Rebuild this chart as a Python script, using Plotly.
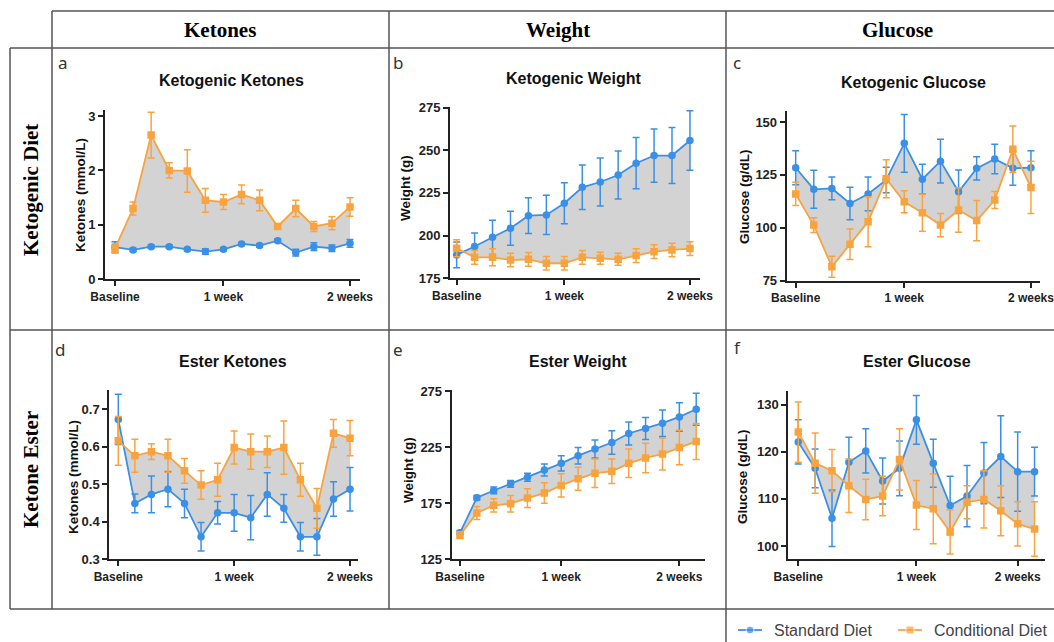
import plotly.graph_objects as go

W, H = 1054, 642

# ---------------- data ----------------
tick_text = ["Baseline", "1 week", "2 weeks"]
series_names = ["Standard Diet", "Conditional Diet"]
col_headers = ["Ketones", "Weight", "Glucose"]
row_headers = ["Ketogenic Diet", "Ketone Ester"]
panel_titles = ["Ketogenic Ketones", "Ketogenic Weight", "Ketogenic Glucose",
                "Ester Ketones", "Ester Weight", "Ester Glucose"]
panel_letters = ["a", "b", "c", "d", "e", "f"]
y_titles = ["Ketones (mmol/L)", "Weight (g)", "Glucose (g/dL)",
            "Ketones (mmol/L)", "Weight (g)", "Glucose (g/dL)"]

keto_ketones_std = [0.59, 0.54, 0.60, 0.60, 0.55, 0.51, 0.55, 0.65, 0.62, 0.71, 0.49, 0.60, 0.57, 0.66]
keto_ketones_std_err = [0.10, 0.03, 0.03, 0.03, 0.03, 0.05, 0.03, 0.03, 0.03, 0.03, 0.06, 0.07, 0.06, 0.07]
keto_ketones_cond = [0.57, 1.30, 2.65, 2.00, 1.99, 1.45, 1.42, 1.56, 1.45, 0.97, 1.30, 0.97, 1.03, 1.33]
keto_ketones_cond_err = [0.08, 0.12, 0.42, 0.14, 0.39, 0.22, 0.14, 0.17, 0.19, 0.05, 0.15, 0.09, 0.12, 0.17]

keto_weight_std = [188.7, 193.6, 199.0, 204.3, 211.7, 212.1, 219.0, 228.3, 231.4, 235.5, 242.4, 246.9, 246.9, 255.7]
keto_weight_std_err = [7.5, 8, 10, 10, 10.5, 11.5, 12, 13, 14, 14, 15, 15.6, 16.4, 17.4]
keto_weight_cond = [192.6, 187.3, 187.3, 185.7, 186.1, 183.8, 183.8, 187.3, 186.7, 186.1, 188.3, 190.6, 191.6, 192.4]
keto_weight_cond_err = [5, 4, 5, 4, 4, 4, 4, 4, 3.5, 3.5, 4, 4, 4, 4]

keto_glucose_std = [128.4, 118.2, 118.6, 111.5, 116.0, 122.6, 139.9, 123.0, 131.5, 117.0, 128.1, 132.5, 128.1, 128.4]
keto_glucose_std_err = [8, 9, 5.4, 7.7, 8, 6, 13.7, 7, 10.3, 10.3, 5.5, 7, 8, 8]
keto_glucose_cond = [116.0, 101.3, 81.6, 92.2, 102.9, 123.2, 112.3, 107.1, 101.3, 108.4, 103.4, 113.1, 137.1, 119.1]
keto_glucose_cond_err = [5.5, 3.5, 5, 7.2, 11.8, 9, 5.2, 8.7, 5.5, 10.5, 9.5, 4, 11, 12.4]

ester_ketones_std = [0.673, 0.449, 0.473, 0.487, 0.449, 0.360, 0.424, 0.424, 0.411, 0.473, 0.436, 0.360, 0.360, 0.461, 0.487]
ester_ketones_std_err = [0.067, 0.025, 0.049, 0.047, 0.038, 0.038, 0.03, 0.049, 0.059, 0.058, 0.037, 0.038, 0.049, 0.046, 0.058]
ester_ketones_cond = [0.616, 0.576, 0.587, 0.576, 0.536, 0.498, 0.512, 0.598, 0.587, 0.587, 0.598, 0.512, 0.436, 0.636, 0.623]
ester_ketones_cond_err = [0.065, 0.044, 0.021, 0.044, 0.033, 0.038, 0.044, 0.044, 0.047, 0.042, 0.071, 0.044, 0.053, 0.037, 0.047]

ester_weight_std = [148.6, 179.9, 186.4, 192.3, 198.2, 204.7, 210.6, 217.4, 223.3, 229.2, 237.2, 241.6, 246.4, 252.0, 258.8]
ester_weight_std_err = [2, 2, 3, 3, 3.6, 5.3, 6.8, 7.4, 8, 10.4, 10.3, 9.8, 11.8, 12.7, 14.2]
ester_weight_cond = [146.6, 166.3, 173.1, 174.6, 179.6, 184.1, 190.9, 196.8, 201.8, 203.5, 210.6, 215.4, 218.9, 224.8, 230.1]
ester_weight_cond_err = [3, 5.9, 5.9, 7.4, 8.3, 9.1, 10.3, 10.3, 12.7, 11, 12.7, 13.2, 14.2, 15.4, 16]

ester_glucose_std = [122.1, 116.5, 105.9, 117.8, 120.2, 113.8, 116.5, 126.8, 117.6, 108.6, 110.6, 115.5, 119.0, 115.8, 115.8]
ester_glucose_std_err = [4.7, 4.1, 6, 5.3, 4.7, 4.9, 5.8, 5.2, 5.1, 6.2, 6.5, 6.5, 8.7, 8.4, 5.2]
ester_glucose_cond = [124.2, 117.6, 116.0, 112.8, 109.9, 110.6, 118.4, 108.7, 107.9, 103.0, 109.3, 109.9, 107.5, 104.7, 103.6]
ester_glucose_cond_err = [6.4, 6.4, 4.5, 5.7, 4.3, 4.2, 6.5, 5.2, 7.4, 4.7, 3.5, 6.1, 5.3, 4.7, 5.8]

# x positions of the "Baseline / 1 week / 2 weeks" ticks (measurement index)
tick_idx = [[0, 6, 13], [0, 6, 13], [0, 6, 13], [0, 7, 14], [0, 6, 13], [0, 7, 13]]
y_ticks = [[0, 1, 2, 3], [175, 200, 225, 250, 275], [75, 100, 125, 150],
           [0.3, 0.4, 0.5, 0.6, 0.7], [125, 175, 225, 275], [100, 110, 120, 130]]

panels_data = [
    (keto_ketones_std, keto_ketones_std_err, keto_ketones_cond, keto_ketones_cond_err),
    (keto_weight_std, keto_weight_std_err, keto_weight_cond, keto_weight_cond_err),
    (keto_glucose_std, keto_glucose_std_err, keto_glucose_cond, keto_glucose_cond_err),
    (ester_ketones_std, ester_ketones_std_err, ester_ketones_cond, ester_ketones_cond_err),
    (ester_weight_std, ester_weight_std_err, ester_weight_cond, ester_weight_cond_err),
    (ester_glucose_std, ester_glucose_std_err, ester_glucose_cond, ester_glucose_cond_err),
]

# ---------------- layout geometry (pixels) ----------------
# (x_left, x_right, y_top, y_bottom) of each plot area
boxes = [(105, 360, 110, 279.3), (450, 700, 106.7, 278.3), (786.7, 1040, 111, 280.7),
         (109.3, 358.3, 390, 559.3), (451.7, 705, 390, 559.3), (788.3, 1045, 390.7, 559.3)]
x_ranges = [[-0.553, 13.553], [-0.37, 13.56], [-0.497, 13.5],
            [-0.544, 14.5], [-0.49, 14.52], [-0.59, 14.62]]
y_ranges = [[0, 3.11], [175, 275.5], [75, 155.2], [0.3, 0.7515], [125, 276], [97.17, 133.0]]
title_pos = [(231, 81), (573, 79), (913, 83), (233, 362), (578, 362), (917, 362)]
letter_pos = [(63, 62), (398, 62), (737, 63), (60, 350), (398, 349), (737, 347)]
ytitle_pos = [(80, 195), (405, 188), (744, 197), (73, 477), (408, 470), (742, 477)]

BLUE = "#3a90e6"
ORANGE = "#f9a33f"
FILL = "#d3d3d3"
AX = "#222222"
SANS = "Liberation Sans, Arial, sans-serif"
SERIF = "Liberation Serif, Times New Roman, serif"


def px(x):
    return x / W


def py(y):
    return 1 - y / H


fig = go.Figure()
layout_axes = {}
annotations = []

for i, (std, std_err, cond, cond_err) in enumerate(panels_data):
    n = i + 1
    xa = "x" if n == 1 else f"x{n}"
    ya = "y" if n == 1 else f"y{n}"
    xs = list(range(len(std)))

    # gray area between the two curves
    fig.add_trace(go.Scatter(
        x=xs + xs[::-1], y=std + cond[::-1], fill="toself", fillcolor=FILL,
        mode="none", hoverinfo="skip", showlegend=False, xaxis=xa, yaxis=ya))
    fig.add_trace(go.Scatter(
        x=xs, y=std, mode="lines+markers", name=series_names[0],
        line=dict(color=BLUE, width=1.8),
        marker=dict(symbol="circle", size=7.5, color=BLUE),
        error_y=dict(type="data", array=std_err, visible=True, color=BLUE, thickness=1.5, width=3.5),
        showlegend=False, xaxis=xa, yaxis=ya))
    fig.add_trace(go.Scatter(
        x=xs, y=cond, mode="lines+markers", name=series_names[1],
        line=dict(color=ORANGE, width=1.8),
        marker=dict(symbol="square", size=7.5, color=ORANGE),
        error_y=dict(type="data", array=cond_err, visible=True, color=ORANGE, thickness=1.5, width=3.5),
        showlegend=False, xaxis=xa, yaxis=ya))

    x0, x1, y0, y1 = boxes[i]
    xkey = "xaxis" if n == 1 else f"xaxis{n}"
    ykey = "yaxis" if n == 1 else f"yaxis{n}"
    layout_axes[xkey] = dict(
        domain=[px(x0), px(x1)], range=x_ranges[i], anchor=ya,
        showgrid=False, zeroline=False, showline=True, linecolor=AX, linewidth=2,
        ticks="outside", ticklen=5, tickwidth=2, tickcolor=AX,
        tickvals=tick_idx[i], ticktext=tick_text, ticklabeloverflow="allow",
        tickfont=dict(family=SANS, size=12, color=AX, weight="bold"))
    layout_axes[ykey] = dict(
        domain=[py(y1), py(y0)], range=y_ranges[i], anchor=xa,
        showgrid=False, zeroline=False, showline=True, linecolor=AX, linewidth=2,
        ticks="outside", ticklen=5, tickwidth=2, tickcolor=AX,
        tickvals=y_ticks[i], ticklabeloverflow="allow",
        tickfont=dict(family=SANS, size=13, color=AX, weight="bold"))

    tx, ty = title_pos[i]
    annotations.append(dict(text=panel_titles[i], x=px(tx), y=py(ty), xref="paper", yref="paper",
                            showarrow=False, xanchor="center", yanchor="middle",
                            font=dict(family=SANS, size=16, color="#111", weight="bold")))
    lx, ly = letter_pos[i]
    annotations.append(dict(text=panel_letters[i], x=px(lx), y=py(ly), xref="paper", yref="paper",
                            showarrow=False, xanchor="center", yanchor="middle",
                            font=dict(family="Noto Sans, sans-serif", size=17, color="#333")))
    ax_, ay_ = ytitle_pos[i]
    annotations.append(dict(text=y_titles[i], x=px(ax_), y=py(ay_), xref="paper", yref="paper",
                            showarrow=False, xanchor="center", yanchor="middle", textangle=-90,
                            font=dict(family=SANS, size=13.5, color="#111", weight="bold")))

# ---------------- manual legend (key samples in a pixel-unit helper axis) ----------------
legend_keys = [  # (name, color, symbol, sample x-center, text x)
    (series_names[0], BLUE, "circle", 750, 772),
    (series_names[1], ORANGE, "square", 910, 932),
]
LEG_Y = 630
for name, color, symbol, cx, tx in legend_keys:
    fig.add_trace(go.Scatter(
        x=[cx - 12, cx, cx + 12], y=[LEG_Y] * 3, mode="lines+markers",
        line=dict(color=color, width=1.8),
        marker=dict(symbol=symbol, size=[0, 8, 0], color=color),
        hoverinfo="skip", showlegend=False, xaxis="x7", yaxis="y7"))
    annotations.append(dict(text=name, x=tx, y=LEG_Y, xref="x7", yref="y7",
                            showarrow=False, xanchor="left", yanchor="middle",
                            font=dict(family=SANS, size=16, color="#444")))
layout_axes["xaxis7"] = dict(domain=[0, 1], range=[0, W], visible=False, anchor="y7", fixedrange=True)
layout_axes["yaxis7"] = dict(domain=[0, 1], range=[H, 0], visible=False, anchor="x7", fixedrange=True)

# column / row headers
for text, cx in zip(col_headers, [220, 558, 897]):
    annotations.append(dict(text=text, x=px(cx), y=py(30), xref="paper", yref="paper",
                            showarrow=False, xanchor="center", yanchor="middle",
                            font=dict(family=SERIF, size=21, color="#000", weight="bold")))
for text, cy in zip(row_headers, [190, 470]):
    annotations.append(dict(text=text, x=px(31), y=py(cy), xref="paper", yref="paper",
                            showarrow=False, xanchor="center", yanchor="middle", textangle=-90,
                            font=dict(family=SERIF, size=21, color="#000", weight="bold")))

# table lines
LC = "#555555"
shapes = []
for (xa_, ya_, xb_, yb_) in [(52, 11, 1054, 11), (10, 48, 1054, 48), (10, 330, 1054, 330),
                             (10, 609, 1054, 609), (10, 48, 10, 609), (52, 11, 52, 609),
                             (389, 11, 389, 609), (726, 11, 726, 642)]:
    shapes.append(dict(type="line", xref="paper", yref="paper",
                       x0=px(xa_), y0=py(ya_), x1=px(xb_), y1=py(yb_),
                       line=dict(color=LC, width=1.5)))

fig.update_layout(
    width=W, height=H, margin=dict(l=0, r=0, t=0, b=0, autoexpand=False),
    paper_bgcolor="white", plot_bgcolor="rgba(0,0,0,0)",
    shapes=shapes, annotations=annotations, showlegend=False,
    **layout_axes,
)

fig.write_html("out.html", config={"displayModeBar": False},
               post_script="document.body.style.margin='0px';document.body.style.overflow='hidden';")
